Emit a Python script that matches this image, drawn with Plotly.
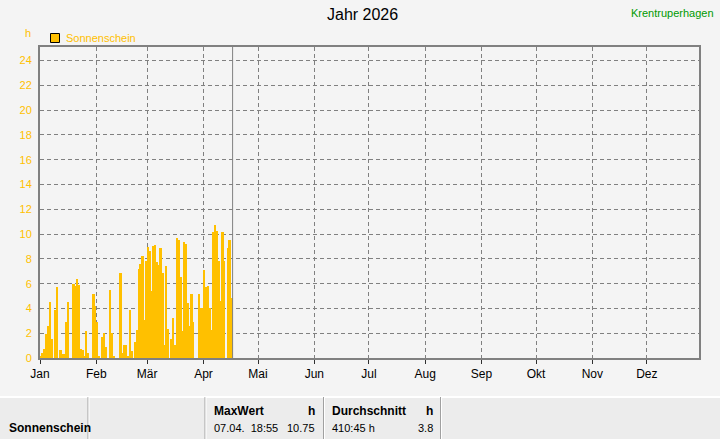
import plotly.graph_objects as go

# ---------------- data ----------------
months = ["Jan", "Feb", "Mär", "Apr", "Mai", "Jun", "Jul", "Aug", "Sep", "Okt", "Nov", "Dez"]
month_start_day = [0, 31, 59, 90, 120, 151, 181, 212, 243, 273, 304, 334]
y_ticks = [0, 2, 4, 6, 8, 10, 12, 14, 16, 18, 20, 22, 24]

# daily sunshine hours, Jan 1 .. Apr 16
sunshine_h = [
    0.2, 0.4, 0.7, 1.9, 2.6, 4.5, 1.55, 0.0, 3.9, 5.7,
    0.0, 0.65, 0.3, 0.35, 2.9, 4.5, 0.0, 0.0, 6.0, 5.8,
    6.4, 5.9, 0.75, 0.65, 0.1, 2.15, 0.4, 0.0, 0.0, 5.2,
    4.2, 2.9, 0.1, 0.0, 1.7, 2.0, 0.85, 0.0, 5.5, 2.0,
    0.1, 0.0, 0.0, 0.0, 6.85, 0.4, 1.07, 1.07, 0.1, 3.87,
    0.6, 0.0, 1.3, 2.3, 7.2, 7.6, 8.2, 3.1, 7.8, 8.95,
    8.65, 5.4, 9.05, 9.1, 7.77, 7.5, 8.9, 6.9, 1.07, 7.44,
    2.35, 0.0, 1.5, 3.25, 1.07, 9.7, 9.56, 6.5, 2.2, 9.4,
    9.2, 4.4, 2.6, 5.2, 2.9, 0.0, 0.0, 5.2, 4.06, 4.06,
    7.1, 5.7, 5.8, 4.06, 2.3, 10.2, 10.75, 10.25, 7.8, 4.6,
    10.2, 7.85, 0.0, 8.9, 9.5, 4.85,
]
day_index = list(range(len(sunshine_h)))
now_day = len(sunshine_h)

title_text = "Jahr 2026"
station = "Krentruperhagen"
series_name = "Sonnenschein"
unit = "h"
max_label = "MaxWert"
max_when = "07.04.&nbsp;&nbsp;18:55"
max_value = "10.75"
avg_label = "Durchschnitt"
sum_text = "410:45 h"
avg_value = "3.8"

# ---------------- styling ----------------
W, H = 720, 439
PL, PR, PT, PB = 40, 699, 47, 358
ORANGE = "#FFC000"
GRID = "#808080"
BG = "#f4f4f4"
FONT = "Liberation Sans, Arial, sans-serif"


def px(x):
    return (x - PL) / (PR - PL)


def py(y):
    return (PB - y) / (PB - PT)


fig = go.Figure()
fig.add_trace(go.Bar(
    x=[d + 0.5 for d in day_index],
    y=sunshine_h,
    width=1.0,
    marker=dict(color=ORANGE, line=dict(width=0)),
    name=series_name,
    showlegend=False,
    hoverinfo="y",
))

shapes = []
annotations = []

# "now" line
shapes.append(dict(type="line", xref="x", yref="paper", x0=now_day, x1=now_day, y0=0, y1=1,
                   line=dict(color=GRID, width=1)))

# legend symbol + text
shapes.append(dict(type="rect", xref="paper", yref="paper",
                   x0=px(50.5), x1=px(59.5), y0=py(42.5), y1=py(33.5),
                   fillcolor=ORANGE, line=dict(color="black", width=1)))
annotations.append(dict(xref="paper", yref="paper", x=px(63.5), y=py(38), text=series_name,
                        showarrow=False, xanchor="left", yanchor="middle",
                        font=dict(color=ORANGE, size=11, family=FONT)))
# unit label
annotations.append(dict(xref="paper", yref="paper", x=px(28), y=py(33), text=unit,
                        showarrow=False, xanchor="center", yanchor="middle",
                        font=dict(color=ORANGE, size=11, family=FONT)))
# title
annotations.append(dict(xref="paper", yref="paper", x=px(362), y=py(15), text=title_text,
                        showarrow=False, xanchor="center", yanchor="middle",
                        font=dict(color="black", size=16, family=FONT)))
# station
annotations.append(dict(xref="paper", yref="paper", x=px(716), y=py(12.5), text=station,
                        showarrow=False, xanchor="right", yanchor="middle",
                        font=dict(color="#009a00", size=11, family=FONT)))

# ---------------- bottom table ----------------
TT = 397
shapes.append(dict(type="rect", xref="paper", yref="paper", x0=px(0), x1=px(720), y0=py(439), y1=py(TT),
                   fillcolor="#ececec", line=dict(width=0), layer="below"))
shapes.append(dict(type="line", xref="paper", yref="paper", x0=px(0), x1=px(720), y0=py(TT), y1=py(TT),
                   line=dict(color="white", width=2)))
for xv in [88, 205, 323.5, 440.5]:
    shapes.append(dict(type="line", xref="paper", yref="paper", x0=px(xv), x1=px(xv), y0=py(439), y1=py(TT),
                       line=dict(color="#a0a0a0", width=1)))
    shapes.append(dict(type="line", xref="paper", yref="paper", x0=px(xv + 1), x1=px(xv + 1), y0=py(439), y1=py(TT),
                       line=dict(color="white", width=1)))


def txt(x, y, s, anchor="left", bold=False):
    annotations.append(dict(xref="paper", yref="paper", x=px(x), y=py(y),
                            text=("<b>%s</b>" % s) if bold else s,
                            showarrow=False, xanchor=anchor, yanchor="middle",
                            font=dict(color="black", size=12 if bold else 11, family=FONT)))


txt(7, 428, series_name, bold=True)
txt(212, 411, max_label, bold=True)
txt(317, 411, unit, anchor="right", bold=True)
txt(212, 428, max_when)
txt(317, 428, max_value, anchor="right")
txt(330, 411, avg_label, bold=True)
txt(435, 411, unit, anchor="right", bold=True)
txt(330, 428, sum_text)
txt(435, 428, avg_value, anchor="right")

fig.update_layout(
    width=W, height=H,
    margin=dict(l=PL, r=W - PR, t=PT, b=H - PB, autoexpand=False),
    paper_bgcolor=BG, plot_bgcolor=BG,
    bargap=0,
    showlegend=False,
    shapes=shapes,
    annotations=annotations,
    font=dict(family=FONT),
)
fig.update_xaxes(
    range=[0, (PR - PL) / 1.817],
    tickmode="array", tickvals=month_start_day, ticktext=months,
    showgrid=True, gridcolor=GRID, griddash="4px,3px", gridwidth=1,
    showline=True, mirror=True, linecolor=GRID, linewidth=2,
    ticks="outside", ticklen=4, tickcolor="#303030", tickwidth=1,
    tickfont=dict(color="black", size=12, family=FONT),
    zeroline=False, fixedrange=True,
)
fig.update_yaxes(
    range=[0, 25.1],
    tickmode="array", tickvals=y_ticks,
    showgrid=True, gridcolor=GRID, griddash="4px,3px", gridwidth=1,
    showline=True, mirror=True, linecolor=GRID, linewidth=2,
    ticks="", ticklabelstandoff=4,
    tickfont=dict(color=ORANGE, size=11, family=FONT),
    zeroline=False, fixedrange=True,
)

fig.write_html(
    "out.html",
    config={"displayModeBar": False},
    post_script="document.body.style.margin='0';document.body.style.padding='0';document.body.style.overflow='hidden';",
)
